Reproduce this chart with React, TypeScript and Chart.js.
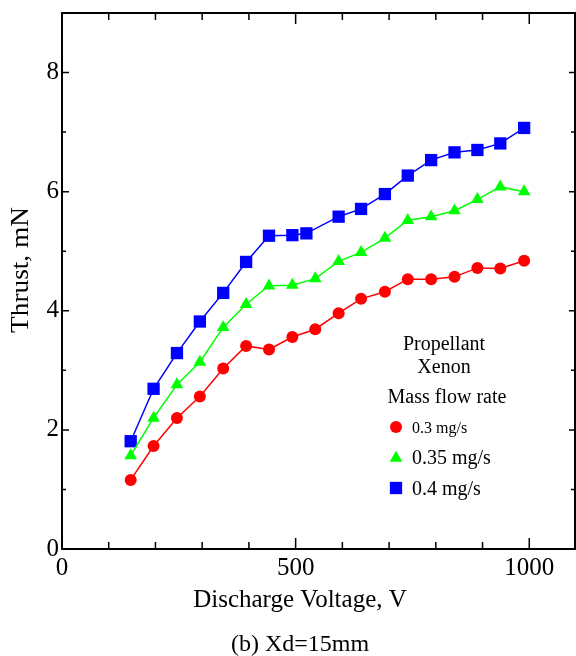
import { useEffect, useRef } from 'react';
import { Chart, registerables } from 'chart.js';

Chart.register(...registerables);

// ---- data ----
const seriesLabels = ['0.3 mg/s', '0.35 mg/s', '0.4 mg/s'];
const voltage03 = [147, 196, 246, 295, 345, 394, 443, 493, 542, 592, 640, 691, 740, 790, 840, 889, 938, 989];
const thrust03 = [1.16, 1.73, 2.2, 2.56, 3.03, 3.41, 3.35, 3.56, 3.69, 3.96, 4.2, 4.32, 4.53, 4.53, 4.57, 4.72, 4.71, 4.84];
const voltage035 = [147, 196, 246, 295, 345, 394, 443, 493, 542, 592, 640, 691, 740, 790, 840, 889, 938, 989];
const thrust035 = [1.57, 2.2, 2.76, 3.14, 3.72, 4.11, 4.42, 4.43, 4.54, 4.83, 4.98, 5.22, 5.52, 5.58, 5.68, 5.87, 6.08, 6.0];
const voltage04 = [147, 196, 246, 295, 345, 394, 443, 493, 523, 592, 640, 691, 740, 790, 840, 889, 938, 989];
const thrust04 = [1.81, 2.69, 3.29, 3.82, 4.3, 4.82, 5.26, 5.27, 5.3, 5.58, 5.71, 5.96, 6.27, 6.53, 6.66, 6.7, 6.81, 7.07];
const xLabeledTicks = [0, 500, 1000];
const yLabeledTicks = [0, 2, 4, 6, 8];
const legendHeader = ['Propellant', 'Xenon', 'Mass flow rate'];
const xTitle = 'Discharge Voltage, V';
const yTitle = 'Thrust, mN';
const caption = '(b) Xd=15mm';

const FONT = '"Liberation Serif", "Times New Roman", Times, serif';
const f = (s: number) => `${s}px ${FONT}`;

function pts(xs: number[], ys: number[]) {
  return xs.map((x, i) => ({ x, y: ys[i] }));
}

function drawMarker(ctx: CanvasRenderingContext2D, style: string, color: string, x: number, y: number, r: number) {
  ctx.fillStyle = color;
  ctx.beginPath();
  if (style === 'circle') {
    ctx.arc(x, y, r, 0, Math.PI * 2);
  } else if (style === 'triangle') {
    ctx.moveTo(x, y - r);
    ctx.lineTo(x + r * Math.sin((2 * Math.PI) / 3), y - r * Math.cos((2 * Math.PI) / 3));
    ctx.lineTo(x + r * Math.sin((4 * Math.PI) / 3), y - r * Math.cos((4 * Math.PI) / 3));
    ctx.closePath();
  } else {
    const s = Math.SQRT1_2 * r;
    ctx.rect(x - s, y - s, 2 * s, 2 * s);
  }
  ctx.fill();
}

function text(ctx: CanvasRenderingContext2D, t: string, x: number, y: number, size: number, align: CanvasTextAlign, baseline: CanvasTextBaseline, rot = 0, sx = 1) {
  ctx.save();
  ctx.translate(x, y);
  if (rot) ctx.rotate(rot);
  ctx.scale(sx, 1);
  ctx.font = f(size);
  ctx.fillStyle = '#000';
  ctx.textAlign = align;
  ctx.textBaseline = baseline;
  ctx.fillText(t, 0, 0);
  ctx.restore();
}

const decor = {
  id: 'decor',
  afterDraw(chart: any) {
    const { ctx, chartArea: a, scales } = chart;
    const xs = scales.x;
    const ys = scales.y;
    const right = a.right - 1;
    ctx.save();
    ctx.strokeStyle = '#000';
    ctx.lineWidth = 1.5;
    ctx.beginPath();
    for (const t of ys.ticks) {
      const p = ys.getPixelForValue(t.value);
      const major = yLabeledTicks.includes(t.value);
      const len = major ? 7 : 4;
      ctx.moveTo(a.left, p);
      ctx.lineTo(a.left + len, p);
      ctx.moveTo(right, p);
      ctx.lineTo(right - (major ? 6 : 4), p);
    }
    for (const t of xs.ticks) {
      const p = xs.getPixelForValue(t.value);
      const major = xLabeledTicks.includes(t.value);
      const len = major ? 11 : 7;
      ctx.moveTo(p, a.bottom);
      ctx.lineTo(p, a.bottom - len);
      ctx.moveTo(p, a.top);
      ctx.lineTo(p, a.top + len);
    }
    ctx.stroke();
    ctx.lineWidth = 2;
    ctx.strokeRect(a.left, a.top, right - a.left, a.bottom - a.top);
    ctx.restore();

    // axis titles and caption
    text(ctx, xTitle, 300, 607, 25, 'center', 'alphabetic');
    text(ctx, caption, 300, 651, 24, 'center', 'alphabetic');
    text(ctx, yTitle, 28, 270, 26, 'center', 'alphabetic', -Math.PI / 2, 1.05);

    // legend
    text(ctx, legendHeader[0], 444, 350, 20, 'center', 'alphabetic');
    text(ctx, legendHeader[1], 444, 373, 20, 'center', 'alphabetic');
    text(ctx, legendHeader[2], 447, 403, 20, 'center', 'alphabetic');
    const rows = [
      { y: 427, base: 433, size: 16 },
      { y: 458, base: 464, size: 20 },
      { y: 488, base: 495, size: 20 },
    ];
    chart.data.datasets.forEach((ds: any, i: number) => {
      const r = rows[i];
      drawMarker(ctx, ds.pointStyle, ds.pointBackgroundColor, 396, r.y, ds.pointRadius);
      text(ctx, ds.label, 412, r.base, r.size, 'left', 'alphabetic');
    });
  },
};

export default function App() {
  const ref = useRef<HTMLCanvasElement>(null);
  useEffect(() => {
    if (!ref.current) return;
    const chart = new Chart(ref.current, {
      type: 'line',
      data: {
        datasets: [
          {
            label: seriesLabels[0],
            data: pts(voltage03, thrust03),
            borderColor: '#ff0000',
            pointBackgroundColor: '#ff0000',
            pointBorderWidth: 0,
            pointStyle: 'circle',
            pointRadius: 6,
            borderWidth: 1.5,
          },
          {
            label: seriesLabels[1],
            data: pts(voltage035, thrust035),
            borderColor: '#00ff00',
            pointBackgroundColor: '#00ff00',
            pointBorderWidth: 0,
            pointStyle: 'triangle',
            pointRadius: 7.3,
            borderWidth: 1.5,
          },
          {
            label: seriesLabels[2],
            data: pts(voltage04, thrust04),
            borderColor: '#0000ff',
            pointBackgroundColor: '#0000ff',
            pointBorderWidth: 0,
            pointStyle: 'rect',
            pointRadius: 8.7,
            borderWidth: 1.5,
          },
        ],
      } as any,
      options: {
        animation: false,
        responsive: false,
        devicePixelRatio: 1,
        events: [],
        layout: { autoPadding: false, padding: { top: 13, right: 0, left: 0, bottom: 0 } },
        plugins: { legend: { display: false }, tooltip: { enabled: false }, title: { display: false } },
        scales: {
          x: {
            type: 'linear',
            min: 0,
            max: 1100,
            grid: { display: false, drawTicks: false },
            border: { display: false },
            ticks: {
              stepSize: 100,
              autoSkip: false,
              maxRotation: 0,
              padding: 4,
              color: '#000',
              font: { family: FONT, size: 25 },
              callback: (v: any) => (xLabeledTicks.includes(v) ? String(v) : ''),
            },
            afterFit: (s: any) => {
              s.height = 107;
              s.paddingLeft = 0;
              s.paddingRight = 0;
            },
          },
          y: {
            type: 'linear',
            min: 0,
            max: 9,
            grid: { display: false, drawTicks: false },
            border: { display: false },
            ticks: {
              stepSize: 1,
              autoSkip: false,
              padding: 3,
              color: '#000',
              font: { family: FONT, size: 25 },
              callback: (v: any) => (yLabeledTicks.includes(v) ? String(v) : ''),
            },
            afterFit: (s: any) => {
              s.width = 62;
              s.paddingTop = 0;
              s.paddingBottom = 0;
            },
          },
        },
      } as any,
      plugins: [decor],
    });
    return () => chart.destroy();
  }, []);
  return (
    <div style={{ position: 'absolute', left: 0, top: 0, width: 576, height: 656, background: '#fff' }}>
      <canvas ref={ref} width={576} height={656} style={{ width: 576, height: 656, display: 'block' }} />
    </div>
  );
}
